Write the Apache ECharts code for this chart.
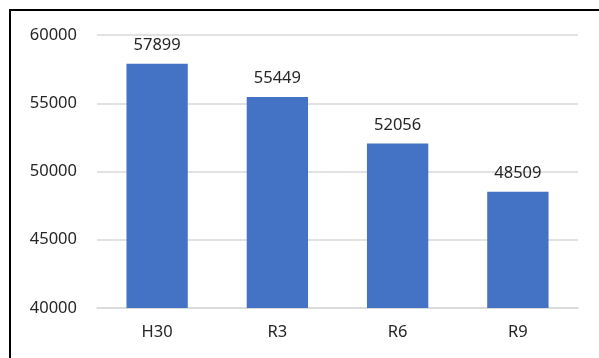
<!DOCTYPE html>
<html>
<head>
<meta charset="utf-8">
<script src="https://cdn.jsdelivr.net/npm/echarts@6/dist/echarts.min.js"></script>
<style>
  html, body { margin: 0; padding: 0; background: #fff; }
  #frame {
    position: absolute; left: 9px; top: 9px; width: 620px; height: 380px;
    border-left: 2px solid #000; border-top: 2px solid #000;
  }
  #chart { position: absolute; left: 0; top: 0; width: 599px; height: 358px; }
</style>
</head>
<body>
<div id="frame"></div>
<div id="chart"></div>
<script>
// 年度別の値
const categories = ["H30", "R3", "R6", "R9"];
const values = [57899, 55449, 52056, 48509];
const yMin = 40000;
const yMax = 60000;
const yStep = 5000;

const chart = echarts.init(document.getElementById("chart"));
const font = "'Noto Sans', 'Liberation Sans', sans-serif";

chart.setOption({
  animation: false,
  grid: { left: 97, right: 21, top: 35, bottom: 50 },
  xAxis: {
    type: "category",
    data: categories,
    axisLine: { lineStyle: { color: "#d9d9d9", width: 1.5 } },
    axisTick: { show: false },
    axisLabel: { color: "#262626", fontSize: 16.5, fontFamily: font, margin: 16 },
  },
  yAxis: {
    type: "value",
    min: yMin,
    max: yMax,
    interval: yStep,
    axisLine: { show: false },
    axisTick: { show: false },
    splitLine: { lineStyle: { color: "#d9d9d9", width: 1.5 } },
    axisLabel: {
      color: "#262626",
      fontSize: 16.5,
      fontFamily: font,
      margin: 20,
      formatter: (v) => String(v),
    },
  },
  series: [
    {
      type: "bar",
      data: values,
      barWidth: "51%",
      itemStyle: { color: "#4472c4" },
      label: {
        show: true,
        position: "top",
        distance: 10,
        color: "#262626",
        fontSize: 16.5,
        fontFamily: font,
      },
    },
  ],
});
</script>
</body>
</html>
